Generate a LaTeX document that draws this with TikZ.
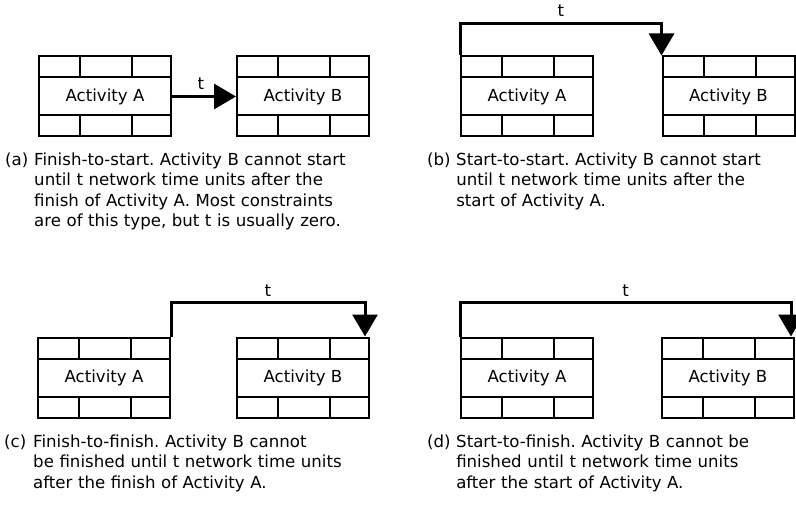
\documentclass[tikz,border=0pt]{standalone}
\usepackage{fontspec}
\setmainfont{DejaVu Sans}
\usetikzlibrary{positioning, arrows.meta}

% number of a sub-caption, hanging in front of its lines
\newcommand{\capno}[1]{\hangindent=1.75em\hangafter=1\noindent\makebox[1.75em][l]{#1}}

\tikzset{
	activity/.style={draw, line width=2pt, minimum width=132pt, minimum height=80pt, inner sep=0pt,
		path picture={
			\draw[line width=2pt] ([yshift=-21pt]path picture bounding box.north west) -- ([yshift=-21pt]path picture bounding box.north east);
			\draw[line width=2pt] ([yshift=21pt]path picture bounding box.south west) -- ([yshift=21pt]path picture bounding box.south east);
			\foreach \dx in {41,93} {
				\draw[line width=2pt] ([xshift=\dx pt]path picture bounding box.north west) -- ++(0pt,-21pt);
				\draw[line width=2pt] ([xshift=\dx pt]path picture bounding box.south west) -- ++(0pt,21pt);
			}
		}},
	link/.style={line width=3pt, -{Triangle[length=22pt, width=25pt]}},
	tlabel/.style={above=5pt, inner sep=0pt},
	subcap/.style={anchor=north west, inner sep=0pt, text width=400pt, align=left},
}

\begin{document}
\frenchspacing
\begin{tikzpicture}[x=1pt, y=-1pt, font=\fontsize{16.6}{20.5}\selectfont]
		\useasboundingbox[fill=white] (0,0) rectangle (796,508);
		
		% --- (a) Finish-to-start ---
		\node[activity] (aA) at (105,96.5) {Activity A};
		\node[activity] (aB) at (303,96.5) {Activity B};
		\draw[link] (aA) -- node[tlabel, pos=0.45] {t} (aB);
		\node[subcap, below right=15pt and -33pt of aA.south west] (aCap) {\capno{(a)}Finish-to-start. Activity B cannot start\newline
			until t network time units after the\newline
			finish of Activity A. Most constraints\newline
			are of this type, but t is usually zero.\par};
		
		% --- (b) Start-to-start ---
		\node[activity] (bA) at (527,96.5) {Activity A};
		\node[activity] (bB) at (728.5,96.5) {Activity B};
		\draw[link] (bA.north west) -- ++(0,-32) -| node[tlabel, pos=0.25] {t} (bB.north west);
		\node[subcap, below right=15pt and -33pt of bA.south west] (bCap) {\capno{(b)}Start-to-start. Activity B cannot start\newline
			until t network time units after the\newline
			start of Activity A.\par};
		
		% --- (c) Finish-to-finish ---
		\node[activity] (cA) at (104,377.5) {Activity A};
		\node[activity] (cB) at (303,377.5) {Activity B};
		\draw[link] (cA.north east) -- ++(0,-34) -| node[tlabel, pos=0.25] {t} ([xshift=-5pt]cB.north east);
		\node[subcap, below right=16pt and -33pt of cA.south west] (cCap) {\capno{(c)}Finish-to-finish. Activity B cannot\newline
			be finished until t network time units\newline
			after the finish of Activity A.\par};
		
		% --- (d) Start-to-finish ---
		\node[activity] (dA) at (527,377.5) {Activity A};
		\node[activity] (dB) at (728,377.5) {Activity B};
		\draw[link] (dA.north west) -- ++(0,-34) -| node[tlabel, pos=0.25] {t} ([xshift=-4pt]dB.north east);
		\node[subcap, below right=16pt and -33pt of dA.south west] (dCap) {\capno{(d)}Start-to-finish. Activity B cannot be\newline
			finished until t network time units\newline
			after the start of Activity A.\par};
		
	\end{tikzpicture}
\end{document}
